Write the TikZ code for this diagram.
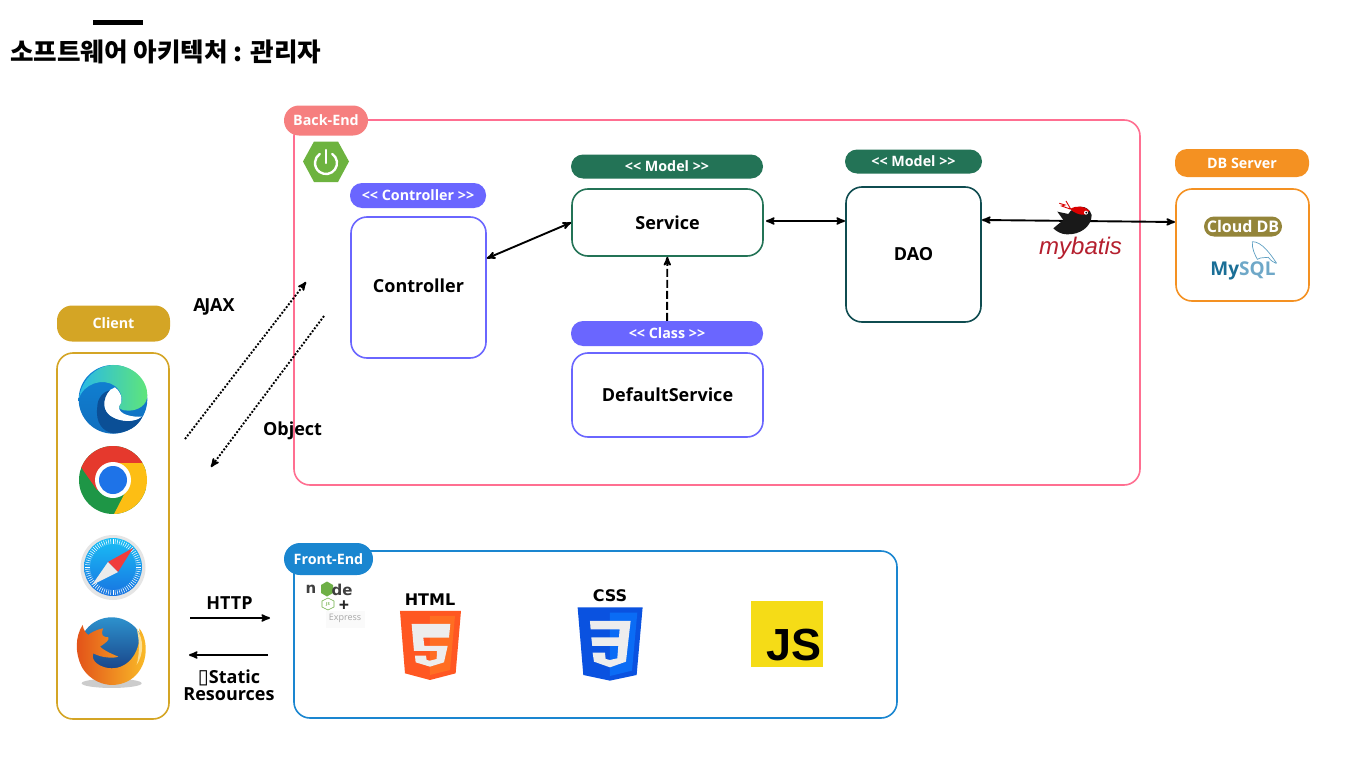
\documentclass[tikz,border=0pt]{standalone}
\usepackage{fontspec}
\usepackage{xcolor}
\usetikzlibrary{arrows}
\setmainfont{Open Sans}
\newfontfamily\krfont{Noto Sans CJK KR}
\newfontfamily\symfont{DejaVu Sans}
\newfontfamily\helvfont{Liberation Sans}

\definecolor{backpink}{HTML}{FF6F91}
\definecolor{backsalmon}{HTML}{F67F7F}
\definecolor{violet}{HTML}{6A66FF}
\definecolor{modelgreen}{HTML}{237356}
\definecolor{daoteal}{HTML}{0F4C50}
\definecolor{dborange}{HTML}{F49122}
\definecolor{clientgold}{HTML}{D4A525}
\definecolor{frontblue}{HTML}{1A86D0}
\definecolor{cloudolive}{HTML}{94853A}
\definecolor{springgreen}{HTML}{6DB33F}
\definecolor{edgetop}{HTML}{1084D6}
\definecolor{edgelow}{HTML}{106EBE}
\definecolor{edgeteal}{HTML}{28B8E8}
\definecolor{edgelime}{HTML}{5FE57A}
\definecolor{edgedark}{HTML}{0B4F96}
\definecolor{chromegreen}{HTML}{1E9646}
\definecolor{chromered}{HTML}{E5392D}
\definecolor{chromeyellow}{HTML}{FDBE14}
\definecolor{chromeblue}{HTML}{1E73E8}
\definecolor{safaritop}{HTML}{19BEF5}
\definecolor{safarilow}{HTML}{1873E1}
\definecolor{safarired}{HTML}{F03C3C}
\definecolor{foxtop}{HTML}{2D91CD}
\definecolor{foxlow}{HTML}{143278}
\definecolor{foxred}{HTML}{E25019}
\definecolor{foxyellow}{HTML}{FABE28}
\definecolor{batisred}{HTML}{B51F2E}
\definecolor{dolphin}{HTML}{5FA0C3}
\definecolor{mysqlblue}{HTML}{1A6E96}
\definecolor{mysqllight}{HTML}{6FA8C8}
\definecolor{nodegreen}{HTML}{6EAF46}
\definecolor{htmlorange}{HTML}{FF5722}
\definecolor{htmllight}{HTML}{FF6E22}
\definecolor{cssblue}{HTML}{0A52E0}
\definecolor{csslight}{HTML}{0A6CF5}
\definecolor{jsyellow}{HTML}{F5DC17}

\newcommand{\openpair}{\textless\kern0pt\textless}
\newcommand{\closepair}{\textgreater\kern0pt\textgreater}

\tikzset{
    >=stealth', % Default arrow tip
    icon/.style = {shift = {#1}, x = 0.3333pt, y = -0.3333pt}
}
\tikzstyle{box}=[
    draw,
    rectangle,
    fill = white,
    line width = 1.6pt,
    rounded corners = 16pt,
    inner sep = 0pt,
    font = \fontsize{18}{20}\selectfont\bfseries
]
\tikzstyle{pill}=[
    rectangle,
    text = white,
    rounded corners = 12pt,
    inner sep = 0pt,
    font = \fontsize{14.3}{16}\selectfont\bfseries
]
\tikzstyle{caption}=[
    inner sep = 0pt,
    align = center,
    font = \fontsize{18}{17}\selectfont\bfseries
]
\tikzstyle{link}=[
    line width = 1.9pt,
    <->
]
\tikzstyle{dots}=[
    line width = 1.9pt,
    dash pattern = on 1.9pt off 1.7pt,
    ->
]

\begin{document}
\begin{tikzpicture}[x = 1pt, y = -1pt]
    \useasboundingbox (0, 0) rectangle (1366, 768);

    \fill [black] (93, 20.5) rectangle (143, 25);
    \draw node [inner sep = 0pt, anchor = west, font = \krfont\fontsize{25.6}{30}\selectfont\bfseries] (title) at (10, 52) {소프트웨어 아키텍처 : 관리자};

    \draw node [box, draw = backpink, minimum width = 846pt, minimum height = 365pt] (backend) at (717, 302.5) {};
    \draw node [pill, fill = backsalmon, minimum width = 84pt, minimum height = 30pt, rounded corners = 15pt] (backpill) at (326, 120.5) {Back-End};
    \draw node [box, draw = frontblue, minimum width = 603pt, minimum height = 167pt] (frontend) at (595.5, 634.5) {};
    \draw node [pill, fill = frontblue, minimum width = 89pt, minimum height = 32pt, rounded corners = 16pt] (frontpill) at (328.5, 559) {Front-End};

    \draw node [pill, fill = clientgold, minimum width = 113pt, minimum height = 36pt, rounded corners = 15pt] (clientpill) at (113.5, 323.5) {Client};
    \draw node [box, draw = clientgold, minimum width = 112pt, minimum height = 366pt] (client) at (113, 536) {};

    \draw node [pill, fill = violet, minimum width = 136pt, minimum height = 25pt] (ctrlpill) at (418, 195.5) {\openpair{} Controller \closepair};
    \draw node [box, draw = violet, minimum width = 135pt, minimum height = 141pt] (controller) at (418.5, 287.5) {\raisebox{4pt}{Controller}};

    \draw node [pill, fill = modelgreen, minimum width = 192pt, minimum height = 24pt] (svcpill) at (667, 166.5) {\openpair{} Model \closepair};
    \draw node [box, draw = modelgreen, minimum width = 191pt, minimum height = 67pt] (service) at (667.5, 222.5) {Service};

    \draw node [pill, fill = violet, minimum width = 192pt, minimum height = 25pt] (classpill) at (667, 333.5) {\openpair{} Class \closepair};
    \draw node [box, draw = violet, minimum width = 191pt, minimum height = 84pt] (default) at (667.5, 395) {DefaultService};

    \draw node [pill, fill = modelgreen, minimum width = 137pt, minimum height = 24pt] (daopill) at (913.5, 161.5) {\openpair{} Model \closepair};
    \draw node [box, draw = daoteal, minimum width = 135pt, minimum height = 135pt] (dao) at (913.5, 254.5) {DAO};

    \draw node [pill, fill = dborange, minimum width = 134pt, minimum height = 28pt] (dbpill) at (1242, 163) {DB Server};
    \draw node [box, draw = dborange, minimum width = 133pt, minimum height = 112pt] (db) at (1242.5, 245) {};
    \draw node [pill, fill = cloudolive, minimum width = 78pt, minimum height = 20pt, rounded corners = 10pt, font = \fontsize{16}{18}\selectfont\bfseries] (cloud) at (1243, 226.5) {Cloud DB};

    \coordinate (svcport) at (766, 221);
    \coordinate (daoin) at (845, 221);
    \coordinate (daoport) at (982, 220);
    \coordinate (dbport) at (1175, 222);
    \coordinate (ajaxfrom) at (185, 439);
    \coordinate (ajaxto) at (306, 282);
    \coordinate (objfrom) at (324, 316);
    \coordinate (objto) at (211, 467);
    \coordinate (httpfrom) at (190, 618);
    \coordinate (httpto) at (270, 618);
    \coordinate (resfrom) at (268, 655);
    \coordinate (resto) at (189, 655);

    \draw [link] (controller) -- (service.west);
    \draw [link] (svcport) -- (daoin);
    \draw [line width = 1.9pt, dash pattern = on 8pt off 3pt, ->] (classpill) -- (service);
    \draw [link] (daoport) -- (dbport);
    \draw [dots] (ajaxfrom) -- (ajaxto);
    \draw [dots] (objfrom) -- (objto);
    \draw [line width = 1.9pt, ->] (httpfrom) -- (httpto);
    \draw [line width = 1.9pt, ->] (resfrom) -- (resto);

    \draw node [caption] (ajax) at (214, 306.5) {A\kern-1.5pt JAX};
    \draw node [caption] (object) at (292.5, 430.5) {Object};
    \draw node [caption] (http) at (229.5, 603) {HTTP};
    \draw node [caption] (static) at (229, 685.5) {{\symfont\fontsize{20}{17}\selectfont ▯}Static\\Resources};

    % spring
    \fill [springgreen] (303, 161.5) -- (314, 141.5) -- (338, 141.5) -- (349, 161.5) -- (338, 182) -- (314, 182) -- cycle;
    \draw [white, line width = 2.4pt, line cap = round] (332.3, 154) arc [start angle = 55, end angle = -235, radius = 11pt];
    \draw [white, line width = 2.4pt, line cap = round] (326, 150) -- (326, 163);

    % edge
    \begin{scope}[icon = {(40, 300)}]
        \shade [top color = edgetop, bottom color = edgelow] (219, 298) circle [radius = 103];
        \shade [left color = edgeteal, middle color = edgeteal, right color = edgelime] (116, 298) .. controls (125, 230) and (180, 195) .. (219, 195) .. controls (280, 195) and (322, 240) .. (322, 285) .. controls (322, 315) and (295, 332) .. (265, 332) .. controls (245, 332) and (232, 325) .. (240, 315) .. controls (250, 305) and (247, 275) .. (225, 258) .. controls (190, 232) and (130, 250) .. (116, 298) -- cycle;
        \fill [white] (210, 270) .. controls (190, 285) and (190, 300) .. (193, 320) .. controls (200, 365) and (280, 375) .. (307, 350) .. controls (280, 352) and (235, 345) .. (237, 320) .. controls (250, 305) and (247, 280) .. (225, 262) -- cycle;
        \fill [edgedark] (172, 320) .. controls (165, 370) and (190, 395) .. (219, 400) .. controls (260, 400) and (295, 380) .. (307, 350) .. controls (280, 375) and (200, 365) .. (193, 320) .. controls (190, 300) and (200, 280) .. (210, 270) .. controls (190, 275) and (172, 295) .. (172, 320) -- cycle;
    \end{scope}

    % chrome
    \begin{scope}
        \clip (113, 480) circle [radius = 34pt];
        \fill [chromegreen] (79, 446) rectangle (147, 514);
        \fill [chromered] (113, 463) -- (150, 463) -- (150, 440) -- (75, 440) -- (75, 457) -- (83, 470) -- (97, 490) -- (113, 480) -- cycle;
        \fill [chromeyellow] (113, 463) -- (150, 463) -- (150, 516) -- (113, 516) -- (128, 487) -- cycle;
    \end{scope}
    \fill [white] (113, 480) circle [radius = 18pt];
    \fill [chromeblue] (113, 480) circle [radius = 14pt];

    % safari
    \fill [black!10] (113, 567.5) circle [radius = 32.5pt];
    \shade [top color = safaritop, bottom color = safarilow] (113, 567) circle [radius = 29pt];
    \foreach \a in {0, 5, ..., 355} {
        \draw [white, line width = 0.5pt] (113, 567) ++(\a:23pt) -- ++(\a:5pt);
    }
    \fill [safarired] (133, 548) -- (108, 562) -- (118, 572) -- cycle;
    \fill [black!8] (92, 585) -- (108, 562) -- (118, 572) -- cycle;

    % firefox
    \begin{scope}[icon = {(40, 300)}]
        \fill [black!20] (215, 1150) ellipse [x radius = 90, y radius = 14];
        \shade [top color = foxtop, bottom color = foxlow] (215, 1050) circle [radius = 98];
        \shade [left color = foxred, right color = foxyellow] (128, 975) .. controls (105, 1010) and (105, 1060) .. (125, 1100) .. controls (150, 1145) and (195, 1155) .. (215, 1155) .. controls (285, 1155) and (325, 1095) .. (316, 1030) .. controls (312, 1005) and (305, 995) .. (298, 985) .. controls (305, 1050) and (270, 1105) .. (215, 1105) .. controls (185, 1105) and (150, 1085) .. (160, 1060) .. controls (185, 1075) and (225, 1075) .. (235, 1070) .. controls (210, 1060) and (190, 1050) .. (180, 1040) .. controls (195, 1030) and (210, 1020) .. (205, 1012) .. controls (190, 1012) and (180, 1005) .. (190, 985) .. controls (165, 990) and (150, 1000) .. (145, 1005) .. controls (138, 1000) and (130, 990) .. (128, 975) -- cycle;
        \fill [foxyellow!50!white] (290, 985) .. controls (312, 1020) and (312, 1060) .. (290, 1095) .. controls (300, 1055) and (298, 1020) .. (290, 985) -- cycle;
    \end{scope}

    % mybatis
    \draw node [inner sep = 0pt, text = batisred, font = \helvfont\fontsize{24}{26}\selectfont\itshape] (mybatis) at (1080.5, 248) {mybatis};
    \begin{scope}[icon = {(1020, 140)}]
        \fill [black!90] (100, 265) -- (130, 240) -- (112, 215) -- (145, 222) .. controls (160, 195) and (205, 190) .. (215, 225) .. controls (215, 260) and (180, 285) .. (140, 283) .. controls (125, 283) and (110, 275) .. (100, 265) -- cycle;
        \fill [red!85!black] (150, 207) .. controls (170, 195) and (195, 198) .. (208, 212) .. controls (205, 228) and (175, 230) .. (150, 207) -- cycle;
        \draw [red!85!black, line width = 0.9pt] (118, 190) -- (135, 195) -- (125, 198) -- (150, 207) (138, 183) -- (145, 195) -- (152, 207);
        \fill [white] (198, 218) circle [radius = 6];
        \fill [black] (199, 218) circle [radius = 3];
    \end{scope}

    % mysql
    \draw node [inner sep = 0pt, font = \fontsize{19}{21}\selectfont\bfseries] (mysql) at (1243, 271) {\textcolor{mysqlblue}{My}\textcolor{mysqllight}{SQL}};
    \begin{scope}[icon = {(1020, 140)}]
        \draw [dolphin, line width = 0.7pt] (697, 305) .. controls (725, 305) and (750, 340) .. (770, 370) (697, 305) .. controls (695, 325) and (705, 345) .. (712, 358) .. controls (725, 350) and (735, 355) .. (745, 352) (745, 352) .. controls (755, 365) and (760, 365) .. (768, 370);
    \end{scope}

    % node and express
    \draw node [inner sep = 0pt, text = black!75, font = \symfont\fontsize{15}{17}\selectfont\bfseries] (nodeletter) at (311, 589.5) {n};
    \fill [nodegreen] (327, 581.5) -- (333, 585) -- (333, 593) -- (327, 596.5) -- (321, 593) -- (321, 585) -- cycle;
    \draw node [inner sep = 0pt, text = black!75, font = \symfont\fontsize{15}{17}\selectfont\bfseries] (nodetail) at (342, 589.5) {de};
    \draw [nodegreen, line width = 0.6pt] (328, 598) -- (334, 601) -- (334, 607) -- (328, 610) -- (322, 607) -- (322, 601) -- cycle;
    \draw node [inner sep = 0pt, text = nodegreen, font = \fontsize{4}{5}\selectfont\bfseries] (nodejs) at (328, 604) {JS};
    \fill [black!2] (326, 611) rectangle (365, 628);
    \draw node [inner sep = 0pt, text = black!85, font = \fontsize{18}{20}\selectfont\bfseries] (plus) at (344, 606) {+};
    \draw node [inner sep = 0pt, text = black!35, font = \fontsize{9}{10}\selectfont] (express) at (345, 618) {Express};

    % html5
    \draw node [inner sep = 0pt, font = \symfont\fontsize{16}{18}\selectfont\bfseries] (htmlword) at (430, 600) {HTML};
    \begin{scope}[icon = {(280, 540)}]
        \fill [htmlorange] (360, 213) -- (543, 213) -- (527, 400) -- (450, 420) -- (375, 400) -- cycle;
        \fill [htmllight] (450, 228) -- (525, 228) -- (510, 390) -- (450, 405) -- cycle;
        \fill [black!7] (395, 252) -- (511, 252) -- (507, 293) -- (430, 293) -- (433, 318) -- (503, 318) -- (492, 367) -- (450, 380) -- (407, 367) -- (405, 347) -- (438, 347) -- (440, 360) -- (450, 362) -- (470, 357) -- (471, 333) -- (402, 333) -- cycle;
    \end{scope}

    % css3
    \draw node [inner sep = 0pt, font = \symfont\fontsize{16}{18}\selectfont\bfseries] (cssword) at (610, 595.5) {CSS};
    \begin{scope}[icon = {(280, 540)}]
        \fill [cssblue] (893, 202) -- (1088, 202) -- (1070, 405) -- (990, 422) -- (910, 405) -- cycle;
        \fill [csslight] (990, 218) -- (1072, 218) -- (1056, 392) -- (990, 408) -- cycle;
        \fill [black!7] (930, 243) -- (1052, 243) -- (1038, 365) -- (990, 382) -- (942, 365) -- (938, 338) -- (975, 338) -- (977, 357) -- (990, 360) -- (1012, 355) -- (1015, 318) -- (937, 318) -- (934, 292) -- (1017, 292) -- (1019, 268) -- (932, 268) -- cycle;
    \end{scope}

    % js
    \fill [jsyellow] (751, 601) rectangle (823, 667);
    \draw node [inner sep = 0pt, anchor = base east, font = \helvfont\fontsize{45}{49}\selectfont\bfseries] (jsword) at (822, 660) {JS};
\end{tikzpicture}
\end{document}
